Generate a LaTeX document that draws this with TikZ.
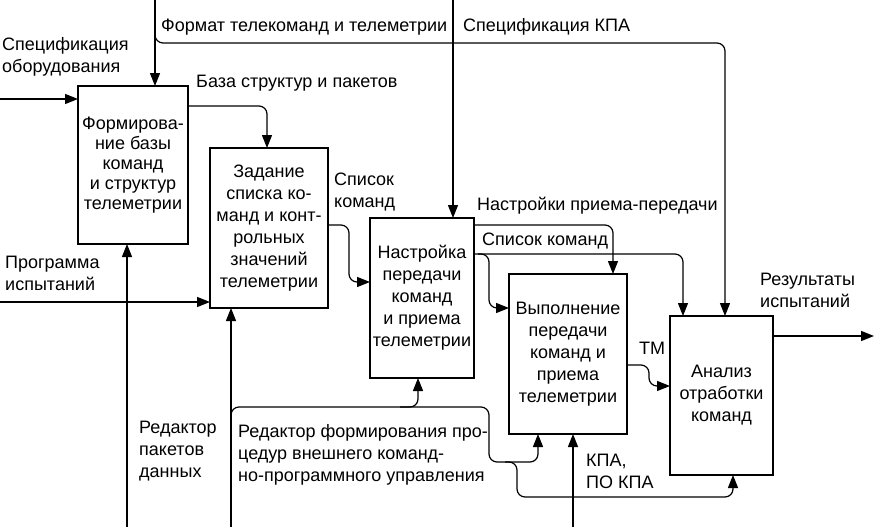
\documentclass[tikz,border=0pt]{standalone}
\usepackage{fontspec}
\setmainfont{Liberation Sans}
\usetikzlibrary{arrows.meta}
\begin{document}
\begin{tikzpicture}[x=1pt,y=-1pt,
  box/.style={draw, line width=2.2pt, inner sep=0pt, outer sep=0pt, align=center,
    font=\fontsize{18}{22}\selectfont},
  lbl/.style={anchor=base west, inner sep=0pt, align=left, font=\fontsize{18}{22}\selectfont},
  conn/.style={line width=1.2pt, rounded corners=8pt},
  arr/.style={conn, -{Triangle[length=13pt,width=10pt]}}
]
\useasboundingbox[fill=white] (0,0) rectangle (875,527);

% boxes
\node[box, minimum width=110pt, minimum height=158pt, font=\fontsize{18}{20}\selectfont] (b1) at (133,165)
  {Формирова-\\ние базы\\команд\\и структур\\телеметрии};
\node[box, minimum width=118pt, minimum height=160pt] (b2) at (269,228)
  {Задание\\списка ко-\\манд и конт-\\рольных\\значений\\телеметрии};
\node[box, minimum width=104pt, minimum height=160pt] (b3) at (422,298)
  {Настройка\\передачи\\команд\\и приема\\телеметрии};
\node[box, minimum width=118pt, minimum height=160pt] (b4) at (568,354)
  {Выполнение\\передачи\\команд и\\приема\\телеметрии};
\node[box, minimum width=103pt, minimum height=159pt] (b5) at (721.5,395.5)
  {Анализ\\отработки\\команд};

% free ends and bends
\coordinate (t1) at (155,0);
\coordinate (t1j) at (155,43);
\coordinate (t3) at (725,43);
\coordinate (t2) at (453,0);
\coordinate (l1) at (0,99);
\coordinate (l2) at (0,302);
\coordinate (out) at (875,336);
\coordinate (m1) at (127,527);
\coordinate (m2) at (231,527);
\coordinate (m2j) at (231,407);
\coordinate (m3) at (573,527);

% controls from top
\draw[arr] (t1) -- (t1 |- b1.north);
\draw[arr] (155,30) -- (t1j) -- (t3) -- (t3 |- b5.north);
\draw[arr] (t2) -- (t2 |- b3.north);

% inputs
\draw[arr] (l1) -- (l1 -| b1.west);
\draw[arr] (l2) -- (l2 -| b2.west);

% b1 -> b2
\draw[arr] (b1.east |- 0,106) -- (267,106) -- (267,148) -- (b2.north -| 267,0);
% b2 -> b3
\draw[arr] (b2.east |- 0,225) -- (349,225) -- (349,282) -- (b3.west |- 0,282);
% b3 -> b4 (top)
\draw[arr] (b3.east |- 0,225) -- (613,225) -- (b4.north -| 613,0);
% b3 -> b5 (top)
\draw[arr] (b3.east |- 0,254) -- (683,254) -- (b5.north -| 683,0);
% b3 -> b4 (left)
\draw[arr] (478,254) -- (489,254) -- (489,308) -- (b4.west |- 0,308);
% b4 -> b5 TM
\draw[arr] (b4.east |- 0,365) -- (649,365) -- (649,386) -- (b5.west |- 0,386);
% b5 -> out
\draw[arr] (b5.east |- out) -- ([xshift=-1pt]out);

% mechanisms
\draw[arr] (m1) -- (m1 |- b1.south);
\draw[arr] (m2) -- (m2 |- b2.south);
\draw[arr] (231,420) -- (m2j) -- (489,407) -- (489,462) -- (538,462) -- (b4.south -| 538,0);
\draw[arr] (400,407) -- (418,407) -- (b3.south -| 418,0);
\draw[arr] (505,462) -- (517,462) -- (517,497) -- (733,497) -- (b5.south -| 733,0);
\draw[arr] (m3) -- (m3 |- b4.south);

% labels (anchor = baseline of the last line)
\node[lbl] (lf) at (161,32) {Формат телекоманд и телеметрии};
\node[lbl] (lk) at (463,32) {Спецификация КПА};
\node[lbl] (lso) at (2,73) {Спецификация\\оборудования};
\node[lbl] (lbs) at (196,88) {База структур и пакетов};
\node[lbl] (lsk1) at (334,207) {Список\\команд};
\node[lbl] (lnp) at (477,210) {Настройки приема-передачи};
\node[lbl] (lsk2) at (482,245) {Список команд};
\node[lbl] (lpi) at (5,290) {Программа\\испытаний};
\node[lbl] (lri) at (760,307) {Результаты\\испытаний};
\node[lbl] (ltm) at (639,354) {ТМ};
\node[lbl] (lkpa) at (586,488) {КПА,\\ПО КПА};
\node[lbl] (lrp) at (139,477) {Редактор\\пакетов\\данных};
\node[lbl] (lrf) at (238,481) {Редактор формирования про-\\цедур внешнего команд-\\но-программного управления};
\end{tikzpicture}
\end{document}
